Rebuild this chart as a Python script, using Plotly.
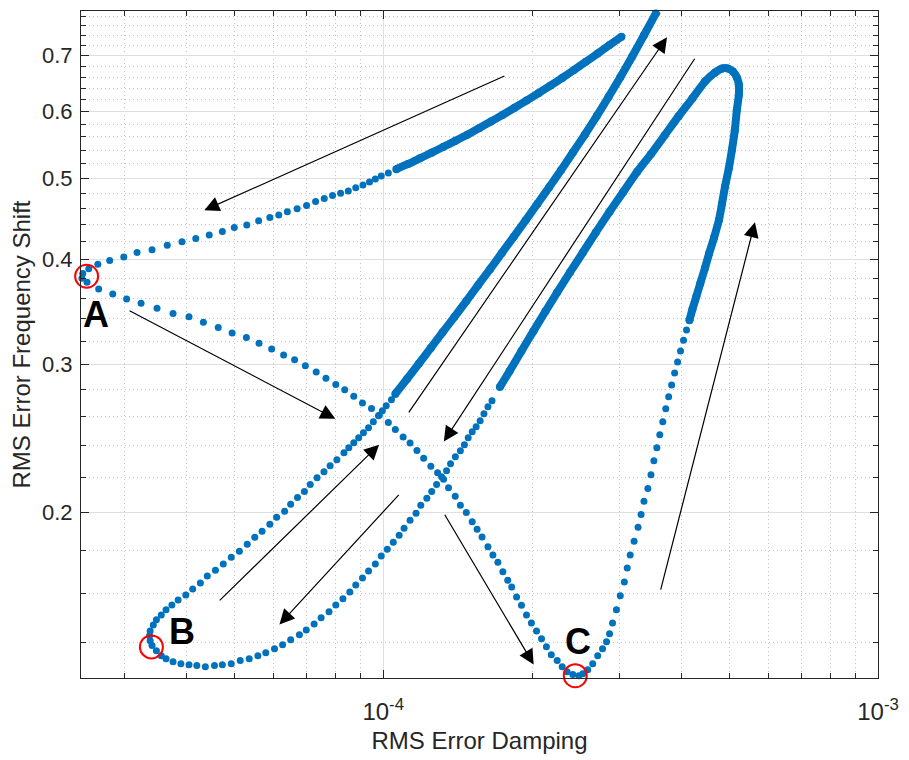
import numpy as np
import plotly.graph_objects as go

# Damping values below are listed in units of 1e-5
DAMPING_UNIT = 1e-5

# Trajectory of (RMS damping error, RMS frequency-shift error) in traversal order.
# Slow stretches (closely packed samples) form a solid band; fast ones show separate samples.
damping_start = [30.3, 28.67, 27.13, 25.67, 24.29, 23.0, 21.76, 20.6, 19.48, 18.43, 17.45, 16.51,
                 15.62, 14.79, 13.99, 13.24, 12.53, 11.86, 11.23, 10.63]
shift_start = [0.737, 0.7204, 0.7039, 0.6881, 0.6729, 0.6584, 0.6446, 0.6314, 0.6187, 0.6067,
               0.5952, 0.5842, 0.5736, 0.5634, 0.554, 0.5451, 0.5364, 0.5281, 0.520, 0.5126]

damping_a_to_c = [10.24, 9.91, 9.64, 9.38, 9.1, 8.8, 8.5, 8.2, 7.9, 7.6, 7.3, 7.0, 6.7, 6.4, 6.15,
                  5.9, 5.6, 5.3, 5.0, 4.73, 4.45, 4.18, 3.92, 3.66, 3.41, 3.18, 2.99, 2.8, 2.65, 2.54,
                  2.47, 2.46, 2.52,
                  2.66, 2.84, 3.03, 3.24, 3.49, 3.76, 4.05, 4.33, 4.64, 4.95, 5.29, 5.61, 5.95, 6.29,
                  6.62, 6.96, 7.32, 7.66, 8.02, 8.36, 8.72, 9.08, 9.47, 9.82, 10.24, 10.58, 10.97,
                  11.33, 11.7, 12.07, 12.48, 12.88, 13.24, 13.55, 13.98, 14.32, 14.72, 15.13, 15.48,
                  15.84, 16.28, 16.66, 17.05, 17.45, 17.85, 18.18, 18.6, 19.03, 19.48, 19.93, 20.41,
                  20.89, 21.37, 21.86, 22.47, 23.0, 23.53, 24.17, 24.86, 25.32, 25.9, 26.51, 27.13,
                  27.75, 28.27, 28.67,
                  29.07, 29.6, 30.14, 30.71, 31.13, 31.56, 32.14, 32.74, 33.2, 33.65, 34.27, 34.76,
                  35.24, 35.73, 36.22, 36.73, 37.24, 37.75, 38.27, 38.81, 39.35, 39.89, 40.45, 41.02,
                  41.58]
shift_a_to_c = [0.5074, 0.5032, 0.4991, 0.495, 0.491, 0.487, 0.483, 0.480, 0.477, 0.473, 0.469,
                0.464, 0.460, 0.456, 0.452, 0.449, 0.445, 0.440, 0.437, 0.432, 0.428, 0.424, 0.420,
                0.416, 0.411, 0.408, 0.403, 0.399, 0.395, 0.390, 0.385, 0.380, 0.376,
                0.369, 0.364, 0.359, 0.355, 0.350, 0.345, 0.342, 0.337, 0.332, 0.327, 0.323, 0.318,
                0.313, 0.308, 0.304, 0.299, 0.294, 0.289, 0.284, 0.280, 0.275, 0.270, 0.266, 0.261,
                0.256, 0.251, 0.246, 0.242, 0.237, 0.232, 0.227, 0.223, 0.219, 0.214, 0.209, 0.204,
                0.200, 0.195, 0.191, 0.187, 0.182, 0.178, 0.1745, 0.170, 0.166, 0.163, 0.1586,
                0.155, 0.151, 0.1477, 0.1445, 0.1414, 0.1384, 0.1354, 0.1332, 0.131, 0.1292, 0.1282,
                0.1278, 0.1285, 0.1299, 0.1321, 0.135, 0.1376, 0.1403, 0.1434,
                0.1477, 0.1531, 0.1591, 0.1652, 0.1717, 0.1779, 0.1848, 0.192, 0.1989, 0.2062,
                0.2136, 0.2218, 0.2304, 0.2388, 0.2475, 0.2564, 0.2657, 0.2746, 0.2836, 0.2931,
                0.302, 0.3114, 0.3207, 0.3297, 0.3387]

damping_peak = [41.58, 42.16, 42.94, 43.73, 44.74, 45.57, 46.63, 47.72, 48.38, 49.06, 49.96, 50.66,
                51.36, 51.84, 52.32, 52.32, 51.84, 50.89, 49.73, 48.38, 46.85, 44.74, 42.16, 39.53,
                37.07, 34.76, 32.59, 30.57, 28.67, 26.88, 25.32, 23.84, 22.47, 21.28, 20.12, 19.03,
                18.01, 17.21]
shift_peak = [0.3387, 0.3491, 0.3616, 0.3747, 0.3916, 0.4068, 0.4249, 0.4463, 0.4663, 0.4884,
              0.5143, 0.540, 0.5705, 0.6025, 0.6278, 0.6469, 0.6593, 0.6702, 0.6756, 0.6756, 0.6684,
              0.6522, 0.6226, 0.5927, 0.5627, 0.5343, 0.5088, 0.4817, 0.4562, 0.4308, 0.4079,
              0.3862, 0.3657, 0.3472, 0.3288, 0.3114, 0.2947, 0.2821]

damping_loop_b = [16.59, 16.28, 15.98, 15.7, 15.41, 15.13, 14.85, 14.59, 14.32, 13.99, 13.68, 13.43,
                  13.12, 12.82, 12.53, 12.25, 11.91, 11.65, 11.33, 11.02, 10.77, 10.48, 10.19, 9.91,
                  9.64, 9.34, 9.08, 8.8, 8.56, 8.29, 8.02, 7.77, 7.49, 7.25, 6.99, 6.77, 6.5, 6.26,
                  6.03, 5.79, 5.58, 5.36, 5.14, 4.93, 4.73, 4.56, 4.37, 4.2, 4.05, 3.9, 3.76, 3.64,
                  3.56, 3.48, 3.41, 3.38, 3.37, 3.38, 3.43, 3.48, 3.56, 3.64, 3.74, 3.85, 3.99, 4.12,
                  4.27, 4.41, 4.58, 4.75, 4.93, 5.12, 5.31, 5.5, 5.69, 5.9, 6.09, 6.32, 6.5, 6.71,
                  6.93, 7.12, 7.35, 7.59, 7.81, 8.06, 8.33, 8.52, 8.72, 8.92, 9.12, 9.34, 9.55, 9.78,
                  9.96, 10.14, 10.39, 10.58]
shift_loop_b = [0.2716, 0.2672, 0.2621, 0.2571, 0.2529, 0.2495, 0.2455, 0.2408, 0.2369, 0.233,
                0.2285, 0.2242, 0.2206, 0.2159, 0.2118, 0.2079, 0.2039, 0.1995, 0.1957, 0.1915,
                0.1879, 0.1843, 0.1808, 0.1774, 0.1736, 0.1703, 0.1671, 0.1639, 0.1608, 0.1578,
                0.1552, 0.1523, 0.1498, 0.1473, 0.1449, 0.143, 0.141, 0.1391, 0.1376, 0.1361,
                0.135, 0.1339, 0.1332, 0.1321, 0.1317, 0.1314, 0.131, 0.1314, 0.1317, 0.1321,
                0.1328, 0.1339, 0.135, 0.1369, 0.1388, 0.1407, 0.1426, 0.1445, 0.1469, 0.149,
                0.151, 0.1531, 0.1552, 0.1573, 0.1595, 0.1621, 0.1648, 0.168, 0.1707, 0.1736,
                0.1769, 0.1798, 0.1833, 0.1868, 0.1899, 0.1936, 0.1973, 0.2006, 0.2045, 0.2084,
                0.2118, 0.2159, 0.2199, 0.2236, 0.2273, 0.231, 0.2356, 0.2388, 0.2421, 0.2455,
                0.2488, 0.2522, 0.2564, 0.2607, 0.2643, 0.2679, 0.2723, 0.2768]

damping_end = [10.58, 11.17, 11.81, 12.48, 13.18, 13.93, 14.72, 15.55, 16.44, 17.37, 18.35, 19.39,
               20.5, 21.66, 22.89, 24.17, 25.55, 27.01, 28.53, 30.14, 31.84, 33.65, 35.56, 35.81]
shift_end = [0.2768, 0.2884, 0.3008, 0.314, 0.3277, 0.3419, 0.357, 0.3729, 0.3897, 0.4074, 0.4258,
             0.4453, 0.4662, 0.4881, 0.5115, 0.5365, 0.5634, 0.5929, 0.6248, 0.6596, 0.6977, 0.740,
             0.7857, 0.791]

# Marked operating points
point_names = ["A", "B", "C"]
point_damping = [2.515e-5, 3.40e-5, 2.444e-4]
point_shift = [0.3822, 0.1383, 0.1278]
name_damping = [2.63e-5, 3.92e-5, 2.48e-4]
name_shift = [0.3444, 0.1444, 0.1405]

# Direction-of-travel arrows (tail -> head)
arrow_tail_damping = [1.77e-4, 3.05e-5, 4.64e-5, 1.121e-4, 4.28e-4, 1.082e-4, 1.326e-4, 3.631e-4]
arrow_tail_shift = [0.663, 0.3485, 0.1565, 0.2621, 0.6968, 0.2107, 0.1995, 0.1612]
arrow_head_damping = [4.35e-5, 8.0e-5, 9.81e-5, 3.746e-4, 1.326e-4, 6.17e-5, 2.014e-4, 5.64e-4]
arrow_head_shift = [0.458, 0.2585, 0.2408, 0.736, 0.243, 0.1471, 0.1318, 0.4432]

# Axis settings
x_limits = [2.45e-5, 1e-3]
y_limits = [0.127, 0.791]
x_major = [1e-4, 1e-3]
x_major_text = ["10<sup>-4</sup>", "10<sup>-3</sup>"]
x_minor = [3e-5, 4e-5, 5e-5, 6e-5, 7e-5, 8e-5, 9e-5,
           2e-4, 3e-4, 4e-4, 5e-4, 6e-4, 7e-4, 8e-4, 9e-4]
y_major = [0.2, 0.3, 0.4, 0.5, 0.6, 0.7]
y_major_text = ["0.2", "0.3", "0.4", "0.5", "0.6", "0.7"]
y_minor = [0.14, 0.16, 0.18, 0.22, 0.24, 0.26, 0.28, 0.32, 0.34, 0.36, 0.38,
           0.42, 0.44, 0.46, 0.48, 0.52, 0.54, 0.56, 0.58, 0.62, 0.64, 0.66, 0.68,
           0.72, 0.74, 0.76, 0.78]

BLUE = "#0072BD"
INK = "#262626"
FONT = "Liberation Sans, Arial, Helvetica, sans-serif"
DOT = 7
BAND = 8

fig = go.Figure()

segments = [
    (damping_start, shift_start, True),
    (damping_a_to_c, shift_a_to_c, False),
    (damping_peak, shift_peak, True),
    (damping_loop_b, shift_loop_b, False),
    (damping_end, shift_end, True),
]
for damp, shift, solid in segments:
    fig.add_trace(go.Scatter(
        x=np.array(damp) * DAMPING_UNIT, y=shift,
        mode="lines+markers" if solid else "markers",
        line=dict(color=BLUE, width=BAND, shape="spline", smoothing=0.6),
        marker=dict(color=BLUE, size=BAND if solid else DOT, line=dict(width=0)),
        cliponaxis=False, hoverinfo="skip", showlegend=False,
    ))

fig.add_trace(go.Scatter(
    x=point_damping, y=point_shift, mode="markers",
    marker=dict(symbol="circle-open", size=23, color="#FF0000", line=dict(width=2, color="#FF0000")),
    cliponaxis=False, hoverinfo="skip", showlegend=False,
))

for name, xd, yd in zip(point_names, name_damping, name_shift):
    fig.add_annotation(
        x=np.log10(xd), y=np.log10(yd), xref="x", yref="y",
        text=f"<b>{name}</b>", showarrow=False,
        font=dict(family=FONT, size=36, color="black"),
        xanchor="center", yanchor="middle",
    )

# Arrows showing the direction of travel along the trajectory
for tx, ty, hx, hy in zip(arrow_tail_damping, arrow_tail_shift, arrow_head_damping, arrow_head_shift):
    fig.add_annotation(
        x=np.log10(hx), y=np.log10(hy), ax=np.log10(tx), ay=np.log10(ty),
        xref="x", yref="y", axref="x", ayref="y",
        text="", showarrow=True, arrowhead=2, arrowsize=2.5, arrowwidth=1.2,
        arrowcolor="black", standoff=0, startstandoff=0,
    )

axis_common = dict(
    type="log", showline=True, linecolor=INK, linewidth=1, mirror="allticks",
    ticks="inside", ticklen=8, tickwidth=1, tickcolor=INK,
    showgrid=True, gridcolor="#DFDFDF", gridwidth=1, zeroline=False,
)

fig.update_xaxes(
    **axis_common,
    range=[np.log10(x_limits[0]), np.log10(x_limits[1])],
    tickmode="array", tickvals=x_major, ticktext=x_major_text,
    tickfont=dict(family=FONT, size=24, color=INK),
    ticklabelstandoff=12,
    minor=dict(tickmode="array", tickvals=x_minor, ticks="inside", ticklen=5, tickcolor=INK,
               showgrid=True, gridcolor="#C4C4C4", griddash="1px,3px", gridwidth=1),
    title=dict(text="RMS Error Damping", font=dict(family=FONT, size=24, color=INK), standoff=8),
)
fig.update_yaxes(
    **axis_common,
    range=[np.log10(y_limits[0]), np.log10(y_limits[1])],
    tickmode="array", tickvals=y_major, ticktext=y_major_text,
    tickfont=dict(family=FONT, size=22, color=INK),
    ticklabelstandoff=3,
    minor=dict(tickmode="array", tickvals=y_minor, ticks="inside", ticklen=5, tickcolor=INK,
               showgrid=True, gridcolor="#C4C4C4", griddash="1px,3px", gridwidth=1),
    title=dict(text="RMS Error Frequency Shift", font=dict(family=FONT, size=24, color=INK), standoff=4),
)

fig.update_layout(
    width=909, height=760,
    margin=dict(l=81, r=21, t=10, b=80),
    paper_bgcolor="white", plot_bgcolor="white",
    font=dict(family=FONT, color=INK),
)

fig.write_html("out.html")
